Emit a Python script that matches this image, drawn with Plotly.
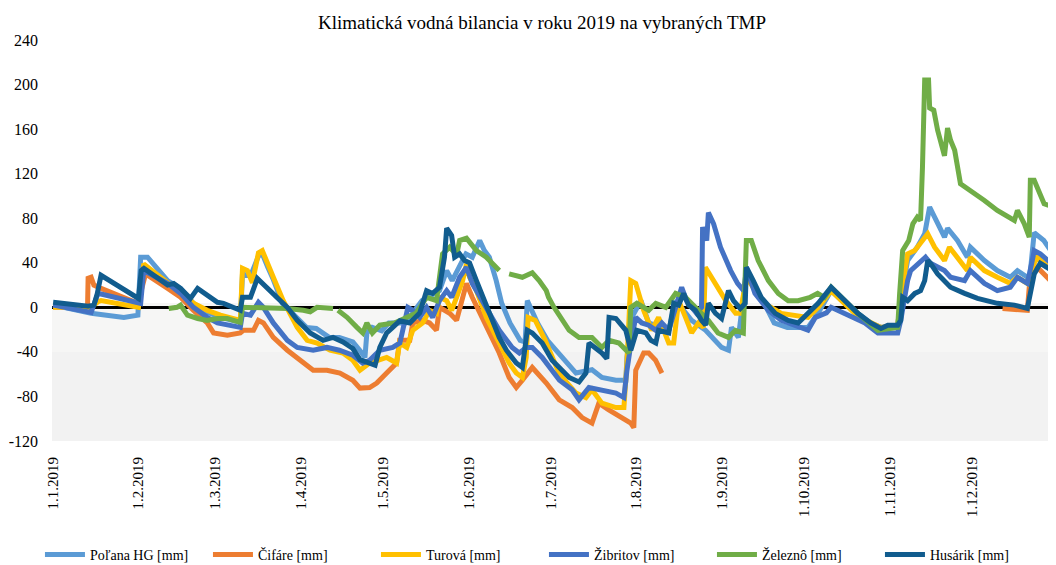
import pandas as pd
import plotly.graph_objects as go

# ---- data: day of year (0 = 1 Jan 2019) and climatic water balance [mm] ----
polana_day = [0, 13.8, 25.7, 30.8, 31.8, 34.3, 41.6, 46.3, 51, 56, 60.8, 65.5, 68, 68.8, 71.7, 74.6, 76, 78, 80,
              83.3, 92, 95.6, 100.3, 104, 108.9, 112.2, 113.3, 114, 116, 119.4, 122, 128, 134, 140.4, 143, 145,
              147.7, 150, 152.3, 155, 156.7, 158.5, 161, 163, 166, 169.7, 171.5, 172.3, 176, 179.6, 185, 190,
              195.8, 199.4, 204.5, 208.1, 208.5, 210.3, 213.6, 216.4, 223.7, 226.2, 229.8, 232, 237.1, 239.3,
              242.9, 245.4, 246.5, 249, 251.9, 255, 258.4, 262, 266.8, 274.3, 278, 282.7, 288, 297, 300.8, 306.9,
              308.5, 310.5, 314, 316.7, 318.5, 320.3, 323.9, 325, 328.6, 332.2, 333.3, 338.4, 343.1, 347.8, 350.4,
              354, 355, 356.5, 360, 364.4]
polana_mm = [2, -5.4, -9, -7, 45, 45, 24, 17, 3.6, -4.5, -9, -11.7, -13.5, 30, 28, 46, 48, 36, 25,
             3.6, -18, -19, -27, -27, -31, -41, -45, -23, -18, -21, -14, -14, 6, 15, 33, 24,
             36, 48, 45, 60, 51, 45, 24, 3.6, -14, -29.6, -31, 6, -14, -29.6, -45, -59,
             -56, -63, -65.5, -65.5, -45, -9, 6, -14, -20.6, 6, -5, -11.7, -20.6, -27,
             -36, -38.5, -18, -27, 30, 15, 3.6, -14, -18, -18, -5, 15, 3, -14, -18, -16,
             15, 42, 54, 66, 90, 81, 63, 71, 60, 45, 54, 42, 33, 27, 33,
             27, 30, 67, 60, 44]

cifare_day = [0, 12.5, 12.7, 13.8, 14.8, 17.4, 30.8, 33.6, 41.6, 46.3, 51, 56, 58.3, 63.3, 68, 69.1, 72.8, 74.6,
              76.4, 80, 85.1, 89.8, 94.5, 99.5, 104.2, 108.9, 111.5, 115, 117.6, 121.2, 124.8, 125.9, 129.6,
              130.7, 134.3, 136.8, 139.3, 140.4, 144.1, 146.6, 148.8, 150.2, 152.3, 157.4, 162.1, 165.7, 168.3,
              170.5, 174.1, 179.2, 183.9, 188.6, 192.2, 195.8, 198.3, 201.9, 206.6, 209.9, 211, 211.7, 214.6,
              216.4, 218.9, 221.2,
              280,
              345, 354, 355.1, 357.6, 364.4]
cifare_mm = [0, 0, 26, 27, 20, 17, 3.6, 30, 17, 9, -2.7, -14, -23, -25, -23, -20.6, -20.6, -11.7,
             -14, -27, -38.5, -47.5, -56.5, -56.5, -59, -65.5, -72.5, -72, -68, -59, -50, -29.6, -29.6,
             -14, -11.7, -14, -20.6, 0, -5.4, -11.7, 9, 21.5, 9, -18, -41, -63, -72,
             -65.5, -54, -68, -83, -90, -99, -104, -86, -92, -99, -104, -108, -56.5, -41,
             -41, -47.5, -59,
             None,
             -1, -2.7, 30, 36, 19]

turova_day = [0, 13.8, 16.3, 17.4, 31, 32.9, 41.6, 46.3, 51, 56, 60.8, 65.5, 68, 68.8, 70.6, 72.4, 74.6, 76,
              77.8, 80, 83.6, 88.7, 92.3, 95.9, 100.6, 105.3, 108.9, 111.5, 115, 117.6, 121.2, 124.8, 125.9,
              128.5, 130.7, 134.3, 136.8, 139.3, 140.4, 143, 144.8, 146.6, 148.8, 150.2, 151.3, 153.8, 157.4,
              162.1, 165.7, 168.3, 170.5, 171.9, 172.6, 175.2, 178.8, 184, 190, 193.6, 195.8, 199.4, 204.5,
              207.4, 208.5, 209.9, 211.7, 214.6, 217.5, 220, 223.7, 225.5, 227.3, 229.8, 232, 234.5, 236.3,
              237, 239.3, 244.4, 248, 249.7, 251.9, 258.4, 264.6, 274.3, 278, 282.7, 287.7, 292.4, 300.8,
              306.9, 308.7, 310.5, 313.1, 316.7, 317.8, 320.3, 323.9, 325.7, 328.6, 332.2, 333.3, 338.4,
              343.1, 347.8, 350.4, 354, 355.8, 357.6, 364.4]
turova_mm = [0, 0, 5, 6, 0, 39, 22, 15, 3.6, -2.7, -7, -10, -11.7, 35, 33, 22, 49, 51,
             39, 27, 6, -18, -29.6, -32, -38.5, -41, -47.5, -56.5, -50, -47.5, -45, -50, -32,
             -36, -20.6, -14, -2.7, -5.4, 9, 6, -2.7, 9, 24, 39, 27, 15, -9,
             -32, -50, -59, -63, -45, -9, -11.7, -29.6, -60, -77, -81, -74, -86, -90,
             -90, -50, 24, 21.5, -2.7, -20.6, -9, -32, -32, 6, -9, -23, -14, -18,
             36, 27, 6, -5.4, -5.4, 27, 3.6, -5.4, -9, 0, 15, 3, -8, -18,
             -16, 20, 48, 51, 63, 66, 54, 42, 54, 45, 33, 45, 33,
             27, 21.5, 27, 21.5, 36, 45, 30]

zibritov_day = [0, 13.8, 16.3, 17.4, 31.8, 32.9, 41.6, 46.3, 51, 56, 59.7, 63.3, 68, 68.8, 71.7, 74.6, 76.4, 80,
                85.1, 88.7, 94.5, 99.5, 104, 108.9, 112.5, 115, 118.7, 123.4, 126, 128.9, 130.7, 133.2, 135.7,
                137.9, 140.4, 143, 144.8, 147.7, 150.2, 152.3, 157.4, 162.1, 166.8, 169.4, 171.9, 174.1, 177.7,
                181.3, 184, 188.6, 191.1, 194.7, 199.4, 204.5, 207.4, 208.5, 210.3, 211.7, 213.9, 216.4, 219,
                221.2, 223.7, 228.4, 230.2, 233.8, 235.6, 236, 237.5, 238.1, 240, 242.5, 246.2, 248.7, 250.9,
                252, 255, 259.9, 264.6, 274.3, 277, 281, 282.7, 287.7, 295, 299.7, 306.9, 308, 310.5, 311.6,
                314.2, 317, 318.8, 323.9, 326.1, 331.2, 333.3, 338.4, 343.1, 347.8, 350.4, 354, 355.8, 356.5,
                358.7, 364.4]
zibritov_mm = [2, -4.5, 12.5, 12, 3.6, 33, 21.5, 12.5, 0, -9, -14, -16, -18, -5.4, -7, 4.5, 0, -14,
               -29.6, -36, -38.5, -36, -38.5, -43, -50, -47.5, -38.5, -36, -32, 0, -2.7, -9, 0,
               -9, 6, 15, 9, 27, 36, 21.5, 0, -20.6, -36, -41, -36, -36, -45,
               -56.5, -65.5, -74, -83, -72, -74, -77, -81, -56.5, -27, -9, -14, -16, -20.6,
               -14, -20.6, 18, 6, -5.4, 0, 72, 60, 85, 75, 54, 33, 21.5, 15,
               35, 12.5, -2.7, -11.7, -20.6, -9, -5, 0, -5.4, -14, -23, -23, -11.7, 24, 33,
               39.5, 45, 39.5, 33, 27, 24, 33, 21.5, 15, 18, 27, 21.5, 42, 51,
               48, 36]

zelezno_day = [42, 45, 46.3, 48.8, 52.5, 56, 59.7, 63.3, 65.5, 68, 68.8, 74.2, 80, 85.1, 90.9, 93.4, 95.9, 101.7,
               102.6,
               103.5, 106.8, 110.4, 112.5, 114, 116, 118.7, 122.3, 124, 131.8, 135.7, 139.3, 141.5, 144.1, 146.6,
               147.7, 150.2, 153.8, 157.4, 162.1,
               163.9,
               165.7, 170.5, 174.1, 176.6, 179.2, 180, 182, 187.5, 191.1, 195.8, 199.4, 202, 205.6, 209.2, 209.9,
               212.1, 216.4, 219, 222.6, 226.2, 229.8, 233.4, 238.1, 241.6, 245.4, 247.9, 250.8, 251.9, 253.7,
               256.2, 259.9, 263.5, 265.3, 267.1, 270.7, 275.1, 277.8, 280.3, 282.7, 292.4, 299.7, 306.9, 307.6,
               308.7, 310.9, 312.4, 314, 315.2, 315.9, 316.7, 318.1, 318.5, 320, 321.4, 323.9, 325, 326.1, 327.6,
               329.7, 333.3, 338.4, 343.1, 349.3, 350.4, 352.9, 354.7, 355.1, 356.5, 358.3, 360.1, 364.4]
zelezno_mm = [-1, 0, 2, -7, -10, -11.7, -10, -10, -11.7, -13.5, 0, 0, 0, -1, -2.7, -4, 0, -1,
              None,
              -2.7, -9, -18, -23, -14, -23, -16, -14, -14, -5.4, 9, 6, 48, 54, 47,
              60, 62, 51, 45, 33,
              None,
              30, 27, 31, 24, 15, 9, 0, -20.6, -27, -27, -36, -29.6, -32, -41, 0,
              3.6, -2.7, 3.6, 0, 12.5, 9, 0, -11.7, -23, -27, -20.6, -23, 60, 60,
              42, 24, 12.5, 9, 6, 6, 9, 12.5, 9, 18, -5.4, -20.6, -18, 12.5,
              51, 60, 75, 81, 78, 126, 204, 204, 179, 177, 159, 136, 161, 150, 141,
              111, 105, 96, 87, 78, 87, 75, 63, 114, 114, 102, 93, 89]

husarik_day = [0, 12.7, 14.8, 16, 17.4, 31, 32, 33, 41.6, 43.8, 46.3, 49.9, 52.5, 57.2, 59.7, 61.9, 65, 68, 68.8,
               71.7, 74.2, 80, 85.1, 88.7, 93.4, 98.1, 101.7, 105.3, 108.9, 111.5, 115, 117, 118.7, 121.2, 123.4,
               126, 129.6, 133.2, 135.7, 137.9, 140.4, 142.2, 143, 144.8, 145.9, 147.7, 149.5, 151.3, 153.8,
               156.7, 159.6, 162.1, 164.7, 168.3, 170.5, 172.3, 174.1, 177.7, 181.3, 183.9, 187.5, 191.1, 193.6,
               194.7, 199.4, 201.2, 202, 204.5, 208.1, 209.9, 212.1, 215.4, 217.2, 219, 220, 223.7, 225.5, 227.3,
               229.1, 230.9, 233.4, 235.6, 237.1, 238.1, 240.7, 242.9, 245.4, 247.2, 249.7, 251.5, 251.9, 254.4,
               257.3, 262.4, 267.1, 270.7, 274.3, 278, 282.7, 287.7, 292.4, 297.1, 300.8, 303.3, 306.9, 308,
               308.7, 310.5, 313.1, 315.2, 316.7, 317.8, 318.8, 321.4, 326.1, 331.2, 335.9, 343.1, 349.3, 354,
               355.1, 356.5, 358.7, 364.4]
husarik_mm = [4.5, 1, 2, 12, 28.7, 8, 33, 35, 20, 21.5, 17, 8, 17, 9, 4.5, 3.6, 0, -2.7, 9,
              9, 26, 12.5, 0, -11.7, -23, -29.6, -27, -31, -37, -47, -50, -52, -36, -23, -18,
              -12, -14, -5, 15, 12.5, 18, 45, 71, 64.5, 45, 48, 42, 40, 24,
              6, -14.5, -27, -38.5, -50, -54, -20.6, -23, -32, -47.5, -54, -63, -67, -59,
              -32, -41, -46, -9, -10, -20.6, -38.5, -20.6, -23, -29.6, -32, -20.6, -23, 3.6, 2,
              12.5, 2, -2.7, -11.7, -16, 3.6, -5.4, -10, 15, 6, -1, 3.6, 36, 24,
              9, -5.4, -11.7, -14, -5, 3.6, 18, 6, -5.4, -14, -19, -16, -16, -11.7,
              9, 6, 12.5, 15, 24, 42, 39.5, 30, 18, 12.5, 8, 3.6, 2, -1,
              12.5, 30, 39.5, 31]

series = [
    ("Poľana HG [mm]", polana_day, polana_mm, "#5B9BD5"),
    ("Čifáre [mm]", cifare_day, cifare_mm, "#ED7D31"),
    ("Turová [mm]", turova_day, turova_mm, "#FFC000"),
    ("Žibritov [mm]", zibritov_day, zibritov_mm, "#4472C4"),
    ("Železnô [mm]", zelezno_day, zelezno_mm, "#70AD47"),
    ("Husárik [mm]", husarik_day, husarik_mm, "#115C8E"),
]

month_ticks = pd.date_range("2019-01-01", "2019-12-01", freq="MS")
month_labels = [f"{d.day}.{d.month}.{d.year}" for d in month_ticks]
y_ticks = [-120, -80, -40, 0, 40, 80, 120, 160, 200, 240]
y_labels = ["-120", "-80", "-40", "0", "40", "80", "120", "160", "200", "240"]

start = pd.Timestamp("2019-01-01")


def to_dates(days):
    return [start + pd.Timedelta(days=d) for d in days]


fig = go.Figure()
for name, days, vals, color in series:
    fig.add_trace(go.Scatter(x=to_dates(days), y=vals, mode="lines", name=name,
                             line=dict(color=color, width=5), connectgaps=False))

x0 = start - pd.Timedelta(hours=10)
x1 = pd.Timestamp("2019-12-31 10:00")

fig.add_shape(type="rect", xref="x", yref="y", x0=x0, x1=x1, y0=-40, y1=4,
              fillcolor="#F6F6F5", line_width=0, layer="below")
fig.add_shape(type="rect", xref="x", yref="y", x0=x0, x1=x1, y0=-120, y1=-40,
              fillcolor="#F2F2F2", line_width=0, layer="below")

W, H = 1048, 557
font = "Liberation Serif, Times New Roman, serif"
fig.update_layout(
    width=W, height=H,
    margin=dict(l=44, r=0, t=32, b=124, autoexpand=False),
    paper_bgcolor="white", plot_bgcolor="white",
    font=dict(family=font, color="black"),
    title=dict(text="Klimatická vodná bilancia v roku 2019 na vybraných TMP",
               x=534 / W, xref="container", xanchor="center",
               y=1 - 14 / H, yref="container", yanchor="middle",
               font=dict(family=font, size=19, color="black")),
    xaxis=dict(range=[x0, x1], tickvals=month_ticks, ticktext=month_labels, tickangle=-90,
               showgrid=False, zeroline=False, showline=False, ticks="",
               tickfont=dict(family=font, size=15), ticklabelstandoff=12),
    yaxis=dict(range=[-120, 240], tickvals=y_ticks, ticktext=y_labels,
               showgrid=False, zeroline=True, zerolinecolor="black", zerolinewidth=3,
               showline=False, ticks="", tickfont=dict(family=font, size=16),
               ticklabelstandoff=13),
    legend=dict(orientation="h", x=0.49, xanchor="center", y=(433 - 547) / 401, yanchor="middle",
                font=dict(family=font, size=14), itemwidth=40, entrywidth=113,
                entrywidthmode="pixels", bgcolor="rgba(0,0,0,0)"),
    showlegend=True,
)

fig.write_html("out.html")
